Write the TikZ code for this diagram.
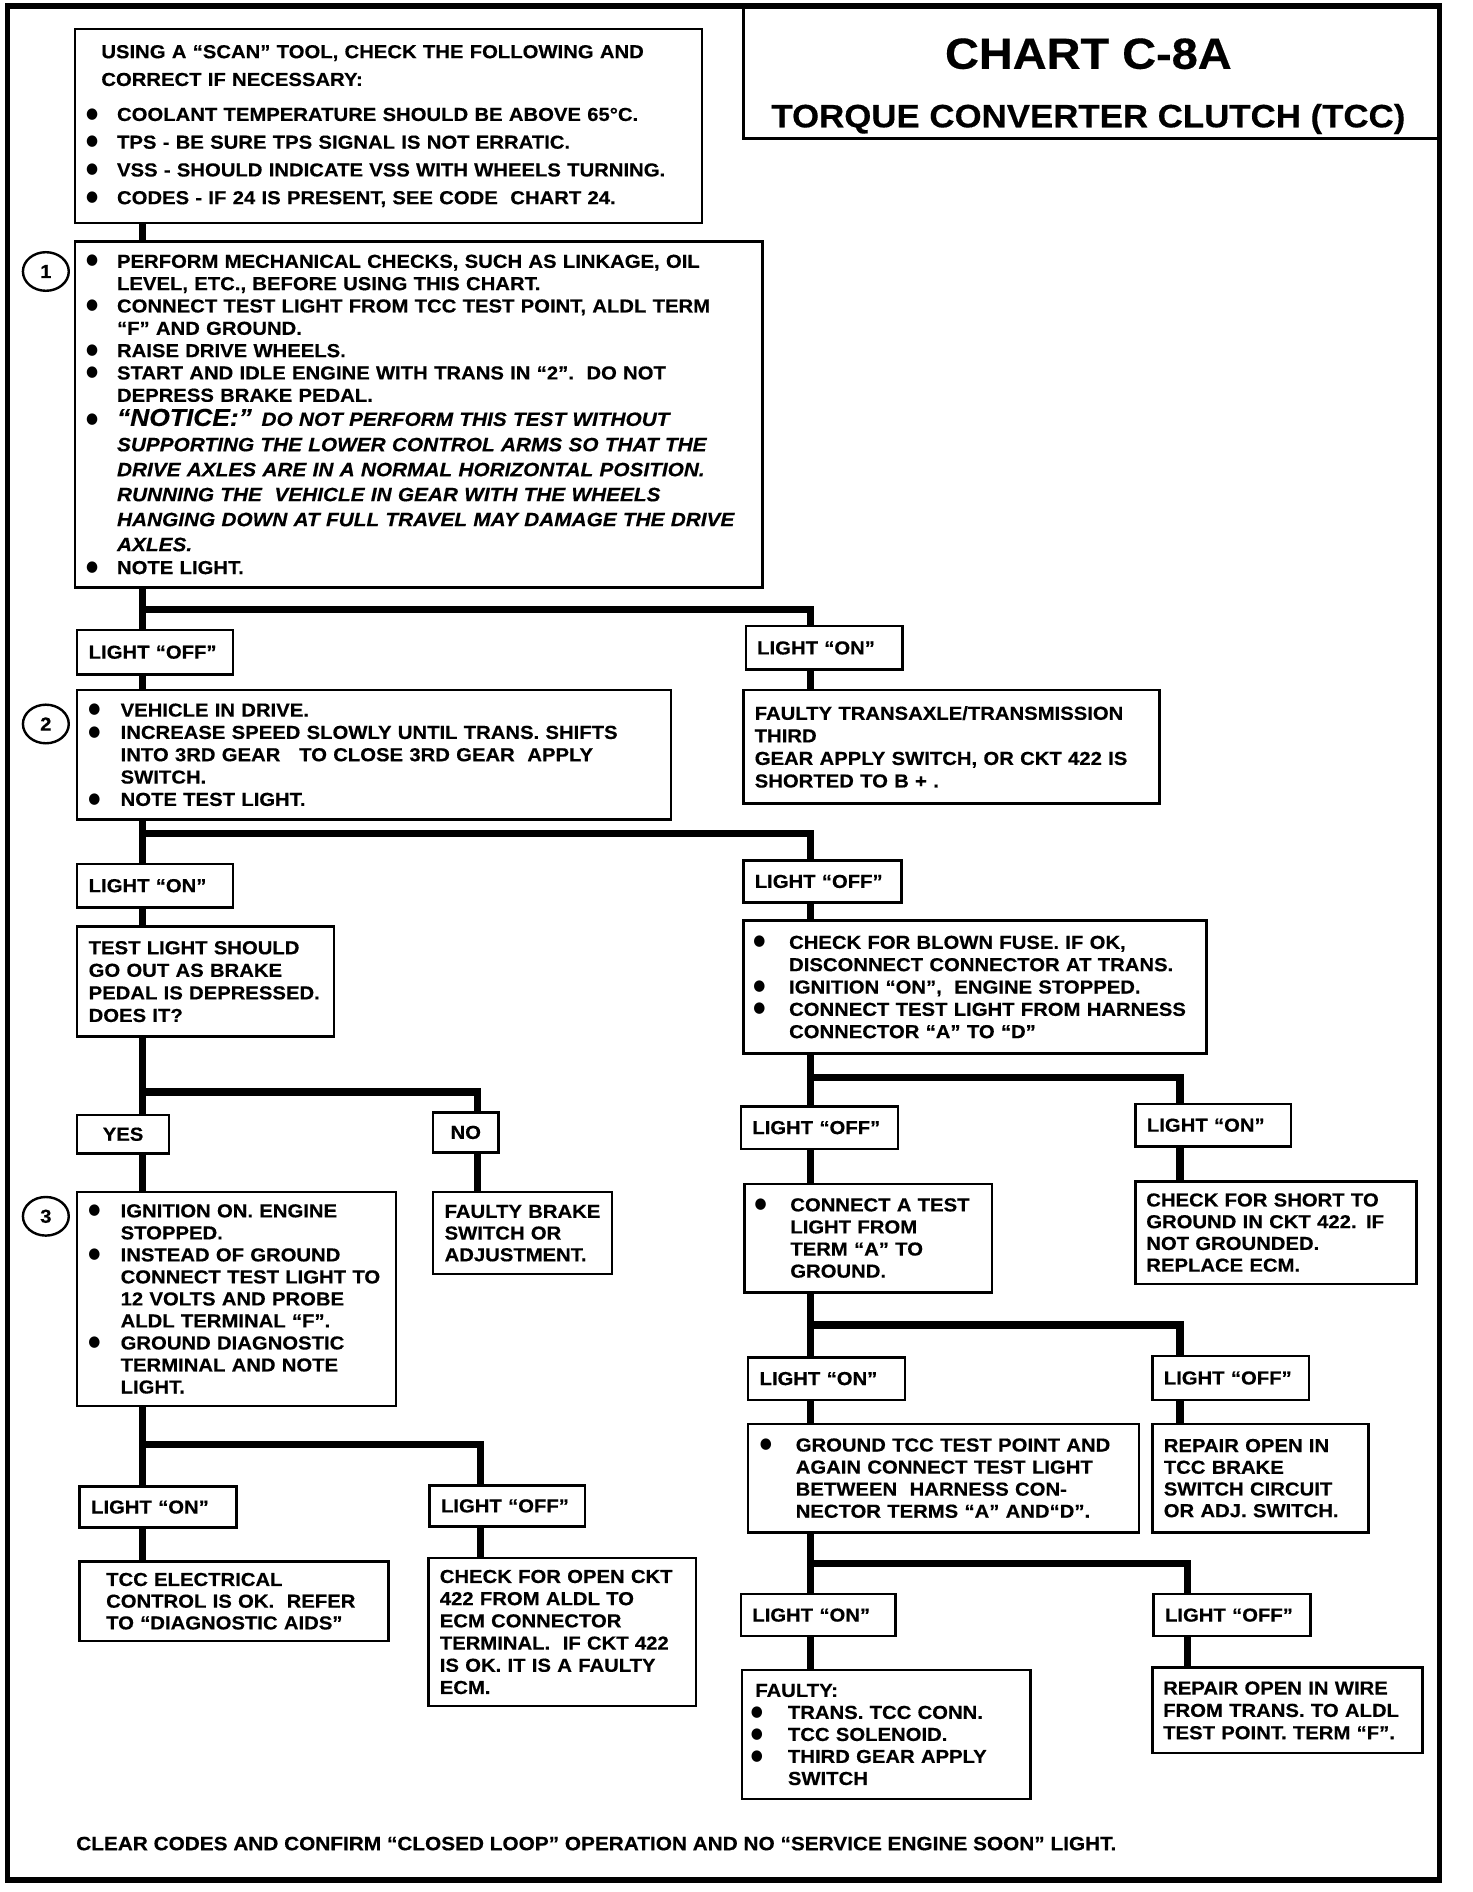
\documentclass[tikz,border=0pt]{standalone}
\usepackage{fontspec}
\usepackage{graphicx}
\usetikzlibrary{shapes.geometric}
\setmainfont{Liberation Sans}[FakeStretch=1.077, BoldFeatures={FakeBold=0.4}, BoldItalicFeatures={FakeBold=0.4}]
\newfontfamily\symf{DejaVu Sans}
\newcommand\bodyf{\fontsize{15.6}{18.4}\selectfont\bfseries}
\newcommand\bdot{\raisebox{\dimexpr5.6pt-0.5\height+0.5\depth\relax}{\resizebox*{10pt}{9.5pt}{\symf ●}}}
\newcommand\blt[1][22]{\makebox[#1pt][l]{\hspace*{-3.7pt}\bdot}\ignorespaces}
\newcommand\cind[1][22]{\hspace*{#1pt}\ignorespaces}
\newcommand\itl[1]{{\itshape\fontsize{16}{18.4}\selectfont #1}}
\tikzset{
  box/.style={draw, line width=2pt, inner ysep=0pt, outer sep=0pt, align=left, font=\bodyf},
  conn/.style={line width=6pt, line join=miter},
  circ/.style={draw, ellipse, line width=2pt, minimum width=38pt, minimum height=32pt, inner sep=0pt, font=\bodyf},
}
% name, left, top, right, bottom, pad, text
\newcommand\bxt[8][]{%
  \pgfmathsetmacro\tw{#5-#3-2*#7}%
  \pgfmathsetmacro\mh{#6-#4}%
  \node[box, anchor=north west, inner xsep=#7pt, text width=\tw pt, minimum height=\mh pt, #1] (#2) at (#3,#4) {#8};}
\begin{document}
\begin{tikzpicture}[x=1pt,y=-1pt]
\fill[white] (0,0) rectangle (1220,1568);
\useasboundingbox (0,0) rectangle (1220,1568);
\draw[line width=4.5pt] (6,5) rectangle (1193,1558);
% title
\node[draw, line width=2.5pt, anchor=north west, minimum width=577pt, minimum height=110pt, outer sep=0pt, inner sep=0pt] (title) at (616,5) {};
\node[anchor=base, inner sep=0pt, font=\fontsize{36.1}{38}\selectfont\bfseries] (t1) at (902,57) {CHART C-8A};
\node[anchor=base, inner sep=0pt, font=\fontsize{26.8}{28}\selectfont\bfseries] (t2) at (902,105.5) {TORQUE CONVERTER CLUTCH (TCC)};

% left column
\bxt[font=\fontsize{15.6}{23}\selectfont\bfseries]{b0}{62}{24}{582}{185}{13}{%
\mbox{\hspace*{9pt}USING A “SCAN” TOOL, CHECK THE FOLLOWING AND}\\
\mbox{\hspace*{9pt}CORRECT IF NECESSARY:}\\[6pt]
\mbox{\blt COOLANT TEMPERATURE SHOULD BE ABOVE 65°C.}\\
\mbox{\blt TPS - BE SURE TPS SIGNAL IS NOT ERRATIC.}\\
\mbox{\blt VSS - SHOULD INDICATE VSS WITH WHEELS TURNING.}\\
\mbox{\blt CODES - IF 24 IS PRESENT, SEE CODE\ \ CHART 24.}}

\bxt[font=\fontsize{15.6}{18.5}\selectfont\bfseries]{b1}{62}{200}{632}{487}{13}{%
\mbox{\blt PERFORM MECHANICAL CHECKS, SUCH AS LINKAGE, OIL}\\
\mbox{\cind LEVEL, ETC., BEFORE USING THIS CHART.}\\
\mbox{\blt CONNECT TEST LIGHT FROM TCC TEST POINT, ALDL TERM}\\
\mbox{\cind “F” AND GROUND.}\\
\mbox{\blt RAISE DRIVE WHEELS.}\\
\mbox{\blt START AND IDLE ENGINE WITH TRANS IN “2”.\ \ DO NOT}\\
\mbox{\cind DEPRESS BRAKE PEDAL.}\\[1.5pt]
\mbox{\blt{\itshape\fontsize{20.3}{18.5}\selectfont “NOTICE:”}\hspace{8pt}\itl{DO NOT PERFORM THIS TEST WITHOUT}}\\[2.5pt]
\mbox{\cind\itl{SUPPORTING THE LOWER CONTROL ARMS SO THAT THE}}\\[2.2pt]
\mbox{\cind\itl{DRIVE AXLES ARE IN A NORMAL HORIZONTAL POSITION.}}\\[2.2pt]
\mbox{\cind\itl{RUNNING THE\ \ VEHICLE IN GEAR WITH THE WHEELS}}\\[2.2pt]
\mbox{\cind\itl{HANGING DOWN AT FULL TRAVEL MAY DAMAGE THE DRIVE}}\\[2.2pt]
\mbox{\cind\itl{AXLES.}}\\[0.5pt]
\mbox{\blt NOTE LIGHT.}}
\node[circ] (c1) at (38,225) {1};

\bxt{loff1}{64}{522}{193}{559}{9.5}{LIGHT “OFF”}
\bxt[font=\fontsize{15.6}{18.5}\selectfont\bfseries]{b2}{64}{572}{556}{679}{13}{%
\mbox{\blt[23]VEHICLE IN DRIVE.}\\
\mbox{\blt[23]INCREASE SPEED SLOWLY UNTIL TRANS. SHIFTS}\\
\mbox{\cind[23]INTO 3RD GEAR\ \ \ TO CLOSE 3RD GEAR\ \ APPLY}\\
\mbox{\cind[23]SWITCH.}\\
\mbox{\blt[23]NOTE TEST LIGHT.}}
\node[circ] (c2) at (38,600) {2};

\bxt{lon2}{64}{716}{193}{752}{9.5}{LIGHT “ON”}
\bxt[font=\fontsize{15.6}{18.7}\selectfont\bfseries]{test}{64}{768}{277}{859}{9.5}{%
\mbox{TEST LIGHT SHOULD}\\
\mbox{GO OUT AS BRAKE}\\
\mbox{PEDAL IS DEPRESSED.}\\
\mbox{DOES IT?}}
\bxt[align=center]{yes}{64}{924}{140}{956}{4}{YES}
\bxt[align=center]{no}{359}{922}{413}{955}{4}{NO}
\bxt[font=\fontsize{15.6}{18.25}\selectfont\bfseries]{b3}{64}{988}{328}{1165}{13}{%
\mbox{\blt[23]IGNITION ON. ENGINE}\\
\mbox{\cind[23]STOPPED.}\\
\mbox{\blt[23]INSTEAD OF GROUND}\\
\mbox{\cind[23]CONNECT TEST LIGHT TO}\\
\mbox{\cind[23]12 VOLTS AND PROBE}\\
\mbox{\cind[23]ALDL TERMINAL “F”.}\\
\mbox{\blt[23]GROUND DIAGNOSTIC}\\
\mbox{\cind[23]TERMINAL AND NOTE}\\
\mbox{\cind[23]LIGHT.}}
\node[circ] (c3) at (38,1008) {3};
\bxt[font=\fontsize{15.6}{18}\selectfont\bfseries]{brake}{359}{988}{507}{1056}{9.5}{%
\mbox{FAULTY BRAKE}\\
\mbox{SWITCH OR}\\
\mbox{ADJUSTMENT.}}
\bxt{lon4}{66}{1232}{196}{1266}{9.5}{LIGHT “ON”}
\bxt{loff4}{356}{1231}{485}{1265}{9.5}{LIGHT “OFF”}
\bxt[font=\fontsize{15.6}{18}\selectfont\bfseries]{tcc}{66}{1294}{322}{1360}{22}{%
\mbox{TCC ELECTRICAL}\\
\mbox{CONTROL IS OK.\ \ REFER}\\
\mbox{TO “DIAGNOSTIC AIDS”}}
\bxt{open}{355}{1291}{577}{1414}{9.5}{%
\mbox{CHECK FOR OPEN CKT}\\
\mbox{422 FROM ALDL TO}\\
\mbox{ECM CONNECTOR}\\
\mbox{TERMINAL.\ \ IF CKT 422}\\
\mbox{IS OK. IT IS A FAULTY}\\
\mbox{ECM.}}

% right column
\bxt{ron1}{618}{519}{748}{555}{9.5}{LIGHT “ON”}
\bxt[font=\fontsize{15.6}{18.7}\selectfont\bfseries]{faulty1}{616}{572}{961}{666}{9.5}{%
\mbox{FAULTY TRANSAXLE/TRANSMISSION}\\
\mbox{THIRD}\\
\mbox{GEAR APPLY SWITCH, OR CKT 422 IS}\\
\mbox{SHORTED TO B + .}}
\bxt{roff2}{616}{713}{747}{748}{9.5}{LIGHT “OFF”}
\bxt[font=\fontsize{15.6}{18.5}\selectfont\bfseries]{fuse}{616}{763}{1000}{873}{12}{%
\mbox{\blt[26]CHECK FOR BLOWN FUSE. IF OK,}\\
\mbox{\cind[26]DISCONNECT CONNECTOR AT TRANS.}\\
\mbox{\blt[26]IGNITION “ON”,\ \ ENGINE STOPPED.}\\
\mbox{\blt[26]CONNECT TEST LIGHT FROM HARNESS}\\
\mbox{\cind[26]CONNECTOR “A” TO “D”}}
\bxt{roff3}{614}{917}{744}{952}{9.5}{LIGHT “OFF”}
\bxt{ron3}{941}{915}{1070}{950}{9.5}{LIGHT “ON”}
\bxt[font=\fontsize{15.6}{18.3}\selectfont\bfseries]{conn}{617}{981}{822}{1071}{12}{%
\mbox{\blt[26]CONNECT A TEST}\\
\mbox{\cind[26]LIGHT FROM}\\
\mbox{\cind[26]TERM “A” TO}\\
\mbox{\cind[26]GROUND.}}
\bxt[font=\fontsize{15.6}{18}\selectfont\bfseries]{short}{941}{979}{1174}{1064}{9}{%
\mbox{CHECK FOR SHORT TO}\\
\mbox{GROUND IN CKT 422. IF}\\
\mbox{NOT GROUNDED.}\\
\mbox{REPLACE ECM.}}
\bxt{ron5}{620}{1125}{750}{1160}{9.5}{LIGHT “ON”}
\bxt{roff5}{955}{1124}{1085}{1160}{9.5}{LIGHT “OFF”}
\bxt[font=\fontsize{15.6}{18.3}\selectfont\bfseries]{ground}{620}{1180}{944}{1270}{13.5}{%
\mbox{\blt[26]GROUND TCC TEST POINT AND}\\
\mbox{\cind[26]AGAIN CONNECT TEST LIGHT}\\
\mbox{\cind[26]BETWEEN\ \ HARNESS CON-}\\
\mbox{\cind[26]NECTOR TERMS “A” AND“D”.}}
\bxt[font=\fontsize{15.6}{18}\selectfont\bfseries]{repair1}{955}{1180}{1134}{1270}{9.5}{%
\mbox{REPAIR OPEN IN}\\
\mbox{TCC BRAKE}\\
\mbox{SWITCH CIRCUIT}\\
\mbox{OR ADJ. SWITCH.}}
\bxt{ron6}{614}{1321}{742}{1356}{9.5}{LIGHT “ON”}
\bxt{roff6}{956}{1321}{1086}{1356}{9.5}{LIGHT “OFF”}
\bxt[font=\fontsize{15.6}{18.25}\selectfont\bfseries]{faulty2}{615}{1384}{854}{1491}{11}{%
\mbox{FAULTY:}\\
\mbox{\blt[27]TRANS. TCC CONN.}\\
\mbox{\blt[27]TCC SOLENOID.}\\
\mbox{\blt[27]THIRD GEAR APPLY}\\
\mbox{\cind[27]SWITCH}}
\bxt[font=\fontsize{15.6}{18.5}\selectfont\bfseries]{repair2}{955}{1382}{1179}{1453}{9}{%
\mbox{REPAIR OPEN IN WIRE}\\
\mbox{FROM TRANS. TO ALDL}\\
\mbox{TEST POINT. TERM “F”.}}

\node[anchor=north west, inner sep=0pt, font=\fontsize{16}{18}\selectfont\bfseries] (foot) at (63,1522) {CLEAR CODES AND CONFIRM “CLOSED LOOP” OPERATION AND NO “SERVICE ENGINE SOON” LIGHT.};

% connector columns and junctions
\coordinate (L) at (118,0);
\coordinate (R) at (672,0);
\coordinate (XN) at (396,0);
\coordinate (XB) at (398,0);
\coordinate (XR) at (978,0);
\coordinate (XS) at (984,0);
\coordinate (j1) at (118,505);
\coordinate (j2) at (118,691);
\coordinate (j3) at (118,905);
\coordinate (j6) at (118,1197);
\coordinate (j4) at (672,893);
\coordinate (j5) at (672,1098);
\coordinate (j7) at (672,1296);

\draw[conn] (b0.south -| L) -- (b1.north -| L);
\draw[conn] (b1.south -| L) -- (loff1.north -| L);
\draw[conn] (j1) -| (ron1.north -| R);
\draw[conn] (loff1.south -| L) -- (b2.north -| L);
\draw[conn] (ron1.south -| R) -- (faulty1.north -| R);
\draw[conn] (b2.south -| L) -- (lon2.north -| L);
\draw[conn] (j2) -| (roff2.north -| R);
\draw[conn] (lon2.south -| L) -- (test.north -| L);
\draw[conn] (roff2.south -| R) -- (fuse.north -| R);
\draw[conn] (test.south -| L) -- (yes.north -| L);
\draw[conn] (j3) -| (no.north -| XN);
\draw[conn] (yes.south -| L) -- (b3.north -| L);
\draw[conn] (no.south -| XN) -- (brake.north -| XN);
\draw[conn] (b3.south -| L) -- (lon4.north -| L);
\draw[conn] (j6) -| (loff4.north -| XB);
\draw[conn] (lon4.south -| L) -- (tcc.north -| L);
\draw[conn] (loff4.south -| XB) -- (open.north -| XB);
\draw[conn] (fuse.south -| R) -- (roff3.north -| R);
\draw[conn] (j4) -| (ron3.north -| XR);
\draw[conn] (roff3.south -| R) -- (conn.north -| R);
\draw[conn] (ron3.south -| XR) -- (short.north -| XR);
\draw[conn] (conn.south -| R) -- (ron5.north -| R);
\draw[conn] (j5) -| (roff5.north -| XR);
\draw[conn] (ron5.south -| R) -- (ground.north -| R);
\draw[conn] (roff5.south -| XR) -- (repair1.north -| XR);
\draw[conn] (ground.south -| R) -- (ron6.north -| R);
\draw[conn] (j7) -| (roff6.north -| XS);
\draw[conn] (ron6.south -| R) -- (faulty2.north -| R);
\draw[conn] (roff6.south -| XS) -- (repair2.north -| XS);
\end{tikzpicture}
\end{document}
